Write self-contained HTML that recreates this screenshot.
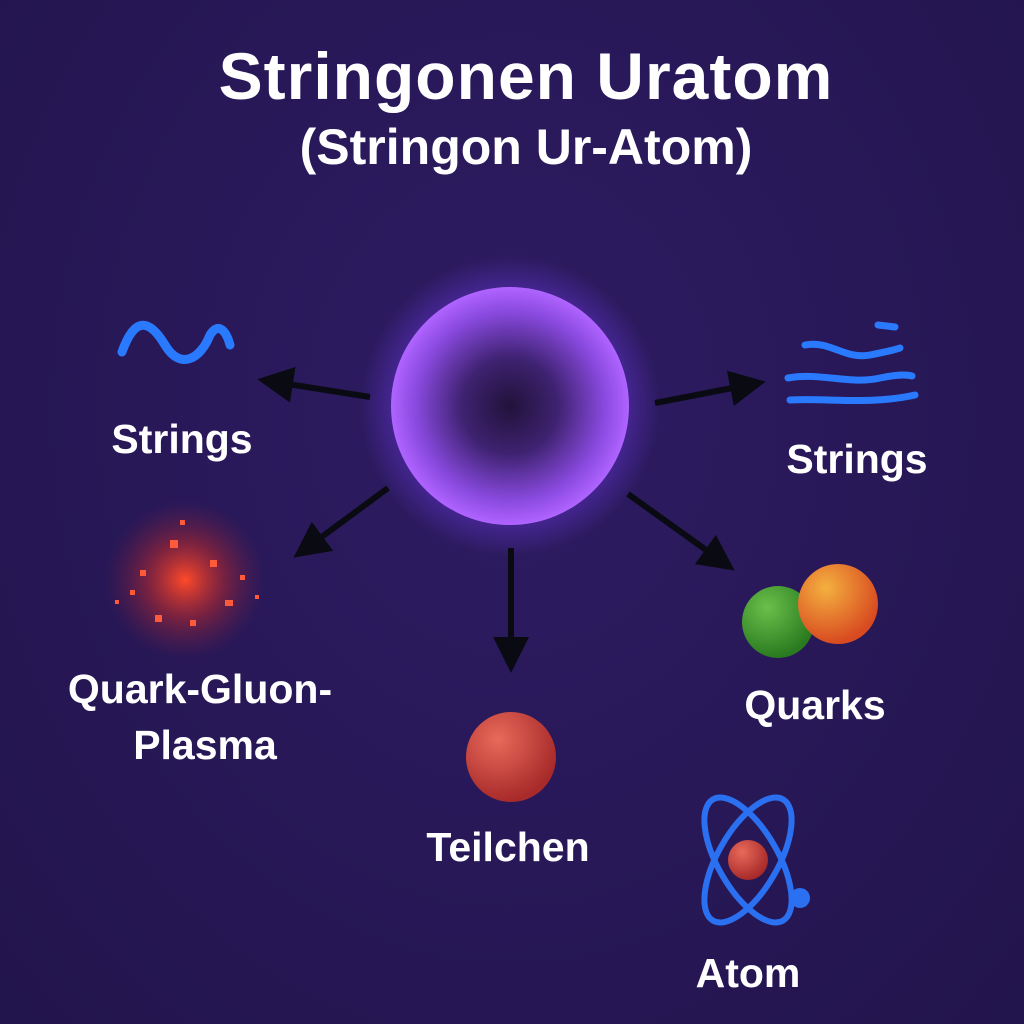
<!DOCTYPE html>
<html><head><meta charset="utf-8"><style>
html,body{margin:0;padding:0}
body{width:1024px;height:1024px;overflow:hidden;background:radial-gradient(ellipse at 50% 40%,#2e1c62 0%,#281858 50%,#22144c 100%);font-family:"Liberation Sans",sans-serif;position:relative}
.t{position:absolute;color:#fff;font-weight:bold;text-align:center;white-space:nowrap;transform:translateX(-50%)}
</style></head><body>
<div class="t" style="left:526px;top:38px;font-size:66px;letter-spacing:1px">Stringonen Uratom</div>
<div class="t" style="left:526px;top:118px;font-size:50px">(Stringon Ur-Atom)</div>
<svg width="1024" height="1024" style="position:absolute;left:0;top:0">
<defs>
<radialGradient id="sp" cx="50%" cy="50%" r="50%">
<stop offset="0" stop-color="#22123a"/><stop offset="0.4" stop-color="#3e2270"/><stop offset="0.8" stop-color="#8a4ae0"/><stop offset="1" stop-color="#b064ff"/></radialGradient>
<radialGradient id="gl" cx="50%" cy="50%" r="50%">
<stop offset="0.65" stop-color="#7a3cff" stop-opacity="0.5"/><stop offset="1" stop-color="#7a3cff" stop-opacity="0"/></radialGradient>
<radialGradient id="rb" cx="35%" cy="30%" r="70%"><stop offset="0" stop-color="#e86a5a"/><stop offset="1" stop-color="#a82a2a"/></radialGradient>
<radialGradient id="gb" cx="35%" cy="30%" r="70%"><stop offset="0" stop-color="#6ac04a"/><stop offset="1" stop-color="#2a7a20"/></radialGradient>
<radialGradient id="ob" cx="35%" cy="30%" r="70%"><stop offset="0" stop-color="#f4b040"/><stop offset="1" stop-color="#d84a20"/></radialGradient>
<radialGradient id="qg" cx="50%" cy="50%" r="50%"><stop offset="0" stop-color="#ff4a2a"/><stop offset="0.5" stop-color="#c02a2a" stop-opacity="0.5"/><stop offset="1" stop-color="#802040" stop-opacity="0"/></radialGradient>
<marker id="ah" markerWidth="6" markerHeight="6" refX="3" refY="3" orient="auto" markerUnits="strokeWidth"><path d="M0,0 L6,3 L0,6 z" fill="#0a0a12"/></marker>
</defs>
<circle cx="510" cy="406" r="150" fill="url(#gl)"/>
<circle cx="510" cy="406" r="119" fill="url(#sp)"/>
<g stroke="#0a0a12" stroke-width="6" fill="none" marker-end="url(#ah)">
<line x1="370" y1="397" x2="275" y2="382"/>
<line x1="655" y1="403" x2="748" y2="385"/>
<line x1="388" y1="488" x2="308" y2="547"/>
<line x1="511" y1="548" x2="511" y2="655"/>
<line x1="628" y1="494" x2="720" y2="560"/>
</g>
<path d="M122,352 C135,315 150,320 165,345 C180,370 200,360 210,335 C218,322 226,330 230,345" stroke="#2a7aff" stroke-width="9" fill="none" stroke-linecap="round"/>
<g stroke="#2a7aff" stroke-width="7" fill="none" stroke-linecap="round">
<path d="M805,345 C830,340 845,360 870,355 C885,352 895,350 900,348"/>
<path d="M788,378 C820,372 850,385 880,378 C895,375 905,374 912,376"/>
<path d="M790,400 C830,398 870,405 915,395"/>
<path d="M878,325 L895,327"/>
</g>
<circle cx="185" cy="580" r="80" fill="url(#qg)"/>
<g fill="#ff5a3a">
<rect x="170" y="540" width="8" height="8"/><rect x="140" y="570" width="6" height="6"/><rect x="210" y="560" width="7" height="7"/><rect x="225" y="600" width="8" height="6"/><rect x="155" y="615" width="7" height="7"/><rect x="190" y="620" width="6" height="6"/><rect x="130" y="590" width="5" height="5"/><rect x="240" y="575" width="5" height="5"/><rect x="180" y="520" width="5" height="5"/><rect x="115" y="600" width="4" height="4"/><rect x="255" y="595" width="4" height="4"/>
</g>
<circle cx="511" cy="757" r="45" fill="url(#rb)"/>
<circle cx="778" cy="622" r="36" fill="url(#gb)"/>
<circle cx="838" cy="604" r="40" fill="url(#ob)"/>
<g stroke="#2a70f0" stroke-width="6" fill="none">
<ellipse cx="748" cy="860" rx="30" ry="70" transform="rotate(-30 748 860)"/>
<ellipse cx="748" cy="860" rx="30" ry="70" transform="rotate(30 748 860)"/>
</g>
<circle cx="748" cy="860" r="20" fill="url(#rb)"/>
<circle cx="800" cy="898" r="10" fill="#2a70f0"/>
</svg>
<div class="t" style="left:182px;top:416px;font-size:41px">Strings</div>
<div class="t" style="left:857px;top:436px;font-size:41px">Strings</div>
<div class="t" style="left:200px;top:666px;font-size:41px">Quark-Gluon-</div>
<div class="t" style="left:205px;top:722px;font-size:41px">Plasma</div>
<div class="t" style="left:508px;top:824px;font-size:41px">Teilchen</div>
<div class="t" style="left:815px;top:682px;font-size:41px">Quarks</div>
<div class="t" style="left:748px;top:950px;font-size:41px">Atom</div>
</body></html>
